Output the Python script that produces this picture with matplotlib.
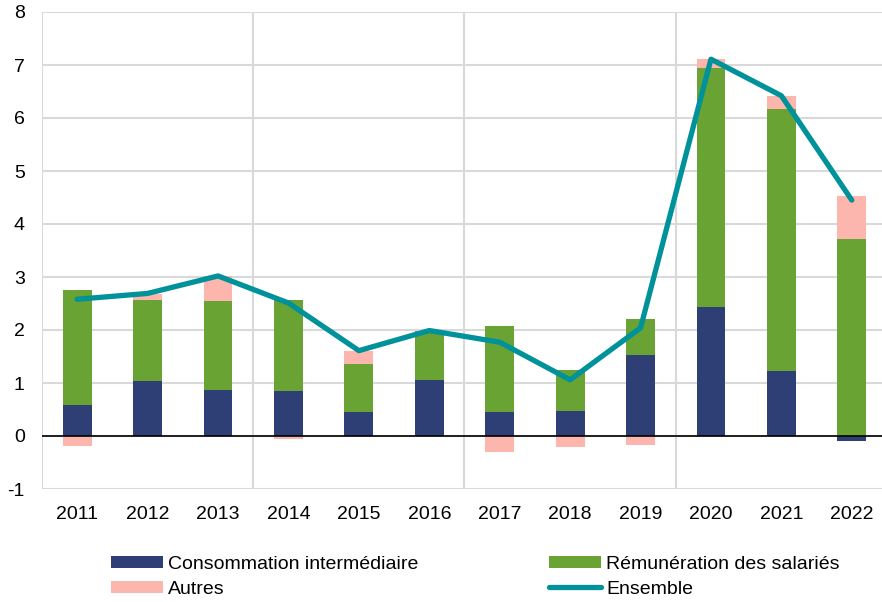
import matplotlib.pyplot as plt
import numpy as np

plt.rcParams['font.family'] = ['Liberation Sans', 'DejaVu Sans']
plt.rcParams['axes.unicode_minus'] = False

years = ['2011', '2012', '2013', '2014', '2015', '2016', '2017', '2018', '2019', '2020', '2021', '2022']
conso = [0.58, 1.04, 0.86, 0.85, 0.46, 1.06, 0.46, 0.48, 1.52, 2.44, 1.23, -0.09]
remun = [2.17, 1.53, 1.68, 1.72, 0.90, 0.92, 1.62, 0.77, 0.68, 4.50, 4.94, 3.71]
autres = [-0.18, 0.11, 0.47, -0.06, 0.25, 0.01, -0.31, -0.20, -0.17, 0.17, 0.25, 0.81]
ensemble = [2.58, 2.69, 3.02, 2.51, 1.61, 1.99, 1.77, 1.06, 2.04, 7.11, 6.42, 4.45]

c_navy = '#2E3F76'
c_green = '#68A333'
c_pink = '#FDB6AE'
c_teal = '#00929A'

fig = plt.figure(figsize=(8.82, 6.02), dpi=100)
ax = fig.add_axes([42/882, 1 - 489/602, 845/882, 477/602])

x = np.arange(len(years))
w = 0.41
pos = np.zeros(len(years))
neg = np.zeros(len(years))
for vals, col, lab in [(conso, c_navy, 'Consommation intermédiaire'),
                       (remun, c_green, 'Rémunération des salariés'),
                       (autres, c_pink, 'Autres')]:
    v = np.array(vals)
    bottom = np.where(v >= 0, pos, neg)
    ax.bar(x, v, w, bottom=bottom, color=col, label=lab, zorder=2)
    pos = pos + np.clip(v, 0, None)
    neg = neg + np.clip(v, None, 0)

ax.plot(x, ensemble, color=c_teal, lw=3.8, solid_capstyle='round',
        solid_joinstyle='round', label='Ensemble', zorder=3)

ax.axhline(0, color='black', lw=1.2, zorder=2.5)

ax.set_xlim(-0.5, len(years) - 0.5)
ax.set_ylim(-1, 8)
ax.set_yticks(range(-1, 9))
ax.set_xticks(x)
ax.set_xticklabels(years)
ax.grid(axis='y', color='#D9D9D9', lw=1.5, zorder=0)
for xv in [-0.5, 2.5, 5.5, 8.5]:
    ax.axvline(xv, color='#D9D9D9', lw=1.5, zorder=0)
for s in ax.spines.values():
    s.set_visible(False)
ax.tick_params(axis='both', length=0, labelsize=14)
ax.tick_params(axis='y', pad=12.5)
ax.tick_params(axis='x', pad=12)

handles, labels = ax.get_legend_handles_labels()
# columns: col1 = conso, autres ; col2 = remun, ensemble
h = [handles[1], handles[3], handles[2], handles[0]]
l = [labels[1], labels[3], labels[2], labels[0]]
fig.legend(h, l, ncol=2, loc='upper left', bbox_to_anchor=(111/882, 1 - 556/602),
           frameon=False, fontsize=14, handlelength=2.68, handleheight=0.6,
           handletextpad=0.26, columnspacing=6.7, labelspacing=0.4,
           borderpad=0, borderaxespad=0)

fig.savefig('out.png', dpi=100)
